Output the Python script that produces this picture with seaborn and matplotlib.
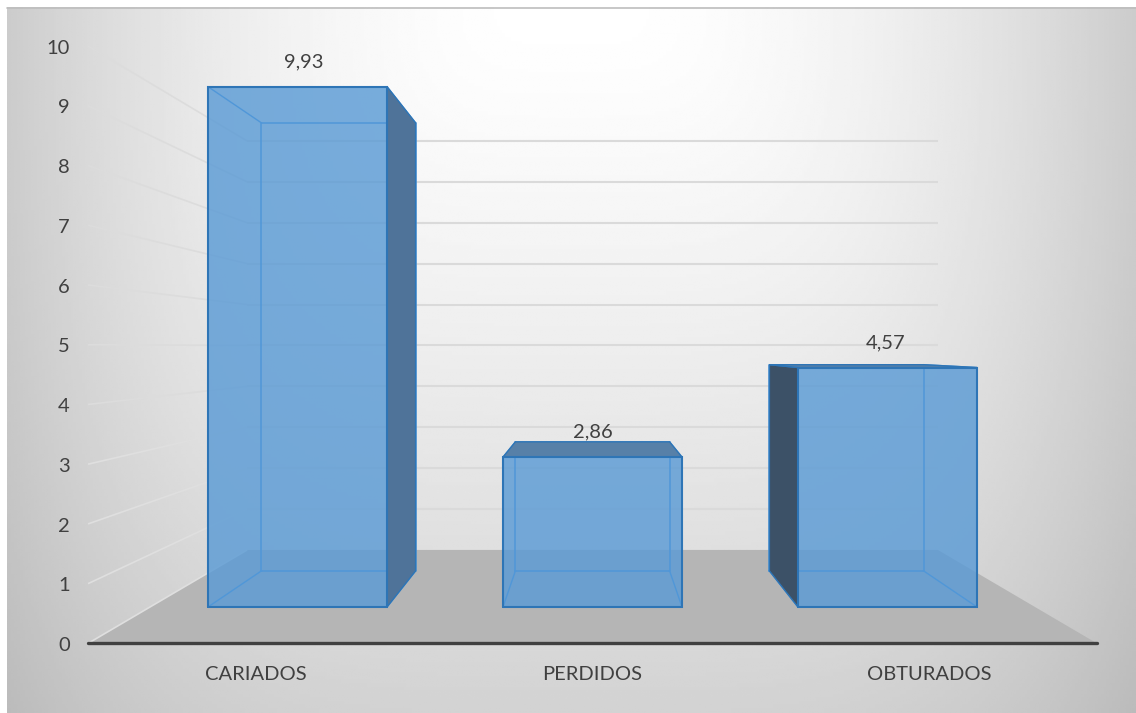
import numpy as np
import pandas as pd
import matplotlib
matplotlib.use("Agg")
import matplotlib.pyplot as plt
from matplotlib.patches import Polygon
import seaborn as sns

# ---- data ----
categories = ["CARIADOS", "PERDIDOS", "OBTURADOS"]
values = [9.93, 2.86, 4.57]
value_labels = ["9,93", "2,86", "4,57"]
axis_ticks = [0, 1, 2, 3, 4, 5, 6, 7, 8, 9, 10]

# ---- 3D look: depth planes as scale factors relative to the bars' front plane ----
S_AXIS, S_FRONT, S_BACK, S_WALL = 1.14, 1.0, 0.861, 0.7805
HORIZON = 4.96            # floor rise per unit of depth scale, in value units
BAR_W = 0.607
FLOOR_L, FLOOR_R = -0.5, 2.5

def project(c, v, s):
    """Category position c, value v, depth plane s -> data coordinates of the front plane."""
    return 1 + (c - 1) * s, -(s - 1) * HORIZON + v * s

W, H = 1136, 713
sns.set_theme(style="white")
plt.rcParams["font.family"] = ["Lato", "DejaVu Sans"]
fig = plt.figure(figsize=(W / 100, H / 100), dpi=100, facecolor="white")

# background gradient
bg = fig.add_axes([7 / W, 0, (W - 7) / W, (H - 7) / H], zorder=0)
yy, xx = np.mgrid[0:1:200j, -1:1:400j]
shade = 1.0 - np.hypot(0.20 * np.abs(xx) ** 2.0, 0.175 * yy ** 1.3)
bg.imshow(shade, cmap="gray", vmin=0, vmax=1, aspect="auto", origin="upper", interpolation="bilinear")
bg.axis("off")
fig.add_artist(plt.Line2D([7 / W, 1], [1 - 7.5 / H] * 2, color="#bdbdbd", lw=1.2))

# main axes: data scale of the bars' front plane
ax = fig.add_axes([0, 0, 1, 1], zorder=1)
ax.patch.set_alpha(0)
df = pd.DataFrame({"categoria": categories, "valor": values})

def poly(points, **kw):
    ax.add_patch(Polygon(points, closed=True, **kw))

# floor
poly([project(FLOOR_L, 0, S_AXIS), project(FLOOR_R, 0, S_AXIS),
      project(FLOOR_R, 0, S_WALL), project(FLOOR_L, 0, S_WALL)],
     facecolor="#b5b5b5", edgecolor="none", zorder=1)

# gridlines: side wall and back wall
for t in axis_ticks:
    col = "#dfdfdf" if t <= 3 else "#dcdcdc"
    a, b, d = project(FLOOR_L, t, S_AXIS), project(FLOOR_L, t, S_WALL), project(FLOOR_R, t, S_WALL)
    ax.plot([a[0], b[0]], [a[1], b[1]], color=col, lw=1.2, zorder=1.5, solid_capstyle="butt")
    if t > 0:
        ax.plot([b[0], d[0]], [b[1], d[1]], color="#dadada", lw=1.5, zorder=1.5, solid_capstyle="butt")

# front faces through seaborn
sns.barplot(data=df, x="categoria", y="valor", order=categories, color="#5b9bd5", saturation=1,
            width=BAR_W, alpha=0.82, edgecolor="none", linewidth=0, zorder=5, ax=ax)

DARK_R, DARK_L, DARK_T = "#4f7399", "#3c5167", "#5780a8"
EDGE, INNER = "#2e75b6", "#5097d8"
for i, v in enumerate(values):
    l, r = i - BAR_W / 2, i + BAR_W / 2
    fr = [project(l, 0, S_FRONT), project(r, 0, S_FRONT), project(r, v, S_FRONT), project(l, v, S_FRONT)]
    bk = [project(l, 0, S_BACK), project(r, 0, S_BACK), project(r, v, S_BACK), project(l, v, S_BACK)]
    # inner wireframe
    xs, ys = zip(*(bk + bk[:1]))
    ax.plot(xs, ys, color=INNER, lw=1.1, zorder=6)
    for p, q in zip(fr, bk):
        ax.plot([p[0], q[0]], [p[1], q[1]], color=INNER, lw=1.0, zorder=6)
    # visible solid sides
    kw = dict(edgecolor=EDGE, lw=1.0, zorder=6.5, joinstyle="miter")
    if bk[1][0] > fr[1][0]:
        poly([fr[1], bk[1], bk[2], fr[2]], facecolor=DARK_R, **kw)
    if bk[0][0] < fr[0][0]:
        poly([fr[0], bk[0], bk[3], fr[3]], facecolor=DARK_L, **kw)
    if bk[3][1] > fr[3][1]:
        poly([fr[3], fr[2], bk[2], bk[3]], facecolor=DARK_T, **kw)
    xs, ys = zip(*(fr + fr[:1]))
    ax.plot(xs, ys, color=EDGE, lw=1.5, zorder=7, solid_joinstyle="miter")

# baseline
ax.plot(*zip(project(FLOOR_L, 0, S_AXIS), project(FLOOR_R, 0, S_AXIS)),
        color="#404040", lw=2.4, zorder=8, solid_capstyle="round")

# text
TXT = "#404040"
FS = 14.5
for t in axis_ticks:
    p = project(FLOOR_L, t, S_AXIS)
    ax.annotate(str(t), xy=p, xytext=(-13, -1.6), textcoords="offset points", ha="right", va="center",
                color=TXT, fontsize=FS, zorder=9)
for i, c in enumerate(categories):
    p = project(i, 0, S_AXIS)
    ax.annotate(c, xy=p, xytext=(0, -22.5), textcoords="offset points", ha="center", va="center",
                color=TXT, fontsize=FS, zorder=9)
for i, (v, lab) in enumerate(zip(values, value_labels)):
    p = project(i, v, S_FRONT)
    ax.annotate(lab, xy=p, xytext=(4.5 * (1 - i) * (1 if i == 0 else 0.25), 18), textcoords="offset points",
                ha="center", va="center", color=TXT, fontsize=FS, zorder=9)

# pixel-true limits for the front plane (category spacing 295 px, 52.4 px per unit)
ax.set_xlim(-297.5 / 295, (W - 297.5) / 295)
ax.set_ylim((607 - H) / 52.4, 607 / 52.4)
ax.axis("off")

fig.savefig("out.png", dpi=100, facecolor="white")
